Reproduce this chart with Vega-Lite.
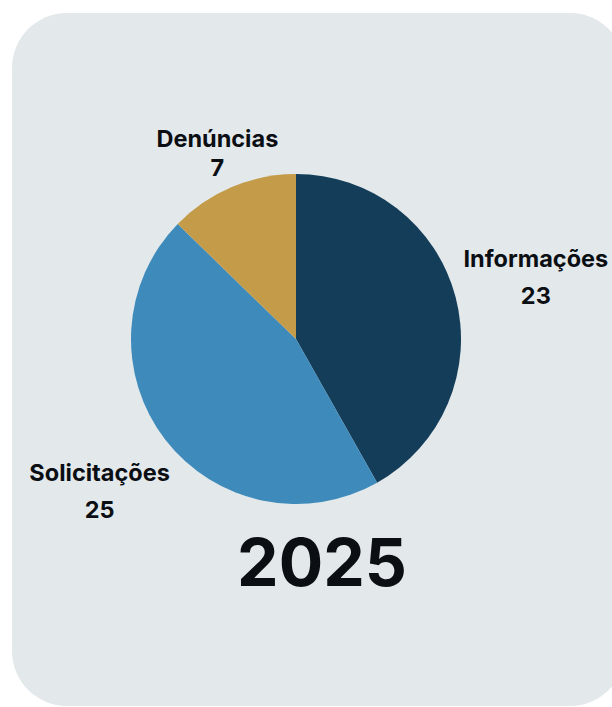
{
  "$schema": "https://vega.github.io/schema/vega-lite/v6.json",
  "autosize": {"type": "fit", "contains": "padding"},
  "width": 612,
  "height": 707,
  "padding": {"left": 12, "top": 13, "right": -13, "bottom": 1},
  "background": "#ffffff",
  "view": {"stroke": null, "fill": "#e3e8eb", "cornerRadius": 55},
  "config": {
    "view": {"stroke": null, "fill": "#e3e8eb", "cornerRadius": 55},
    "text": {"font": "Inter", "fontWeight": "bold", "fill": "#0b0f14"}
  },
  "data": {
    "values": [
      {"category": "Informações", "value": 23, "order": 1},
      {"category": "Solicitações", "value": 25, "order": 2},
      {"category": "Denúncias", "value": 7, "order": 3}
    ]
  },
  "transform": [
    {"calculate": "[datum.category, '' + datum.value]", "as": "label"}
  ],
  "layer": [
    {
      "mark": {"type": "arc", "radius": 165, "x": {"expr": "width/2 - 22.5"}, "y": {"expr": "height/2 - 20.5"}},
      "encoding": {
        "theta": {"field": "value", "type": "quantitative", "stack": true},
        "order": {"field": "order", "type": "quantitative"},
        "color": {
          "field": "category",
          "type": "nominal",
          "scale": {"domain": ["Informações", "Solicitações", "Denúncias"], "range": ["#143d59", "#3e8bbb", "#c49b48"]},
          "legend": null
        }
      }
    },
    {
      "transform": [{"filter": "datum.category !== 'Denúncias'"}],
      "mark": {"type": "text", "radius": 248, "dy": -16, "fontSize": 23.5, "lineHeight": 37, "align": "center", "baseline": "middle", "x": {"expr": "width/2 - 22.5"}, "y": {"expr": "height/2 - 20.5"}},
      "encoding": {
        "theta": {"field": "value", "type": "quantitative", "stack": true},
        "order": {"field": "order", "type": "quantitative"},
        "text": {"field": "label"}
      }
    },
    {
      "transform": [{"filter": "datum.category === 'Denúncias'"}],
      "mark": {"type": "text", "radius": 202, "dy": -13, "fontSize": 23.5, "lineHeight": 29, "align": "center", "baseline": "middle", "x": {"expr": "width/2 - 22.5"}, "y": {"expr": "height/2 - 20.5"}, "theta": {"expr": "2*PI*(48+3.5)/55"}},
      "encoding": {
        "text": {"field": "label"}
      }
    },
    {
      "data": {"values": [{"year": "2025"}]},
      "mark": {"type": "text", "fontSize": 66, "align": "center", "baseline": "alphabetic", "x": {"expr": "width/2 + 3.5"}, "y": {"expr": "height/2 + 226.5"}},
      "encoding": {"text": {"field": "year"}}
    }
  ]
}
